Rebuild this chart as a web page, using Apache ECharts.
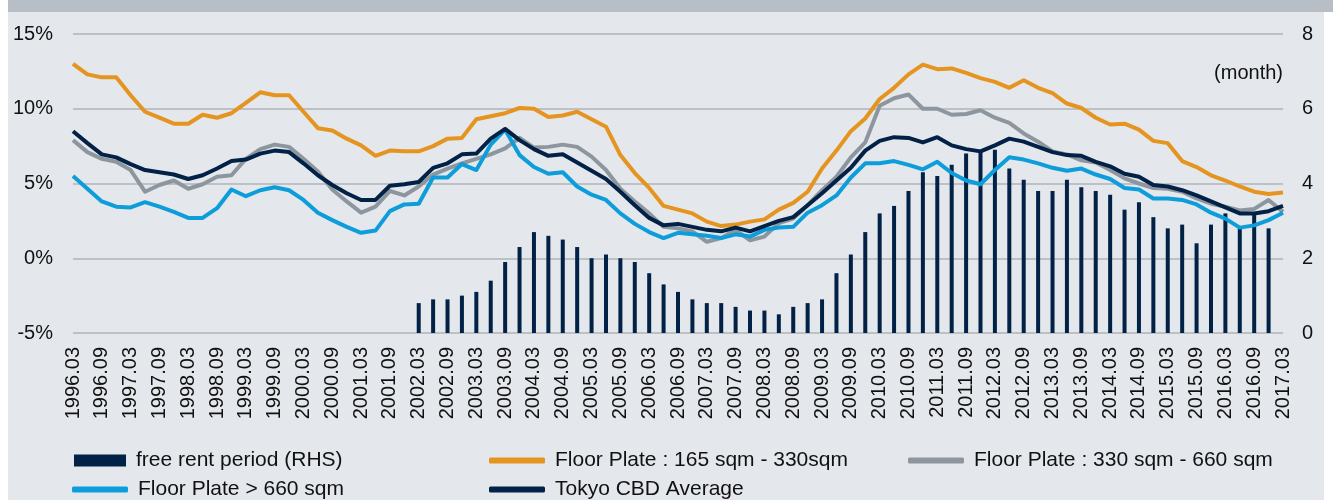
<!DOCTYPE html>
<html>
<head>
<meta charset="utf-8">
<script src="https://cdn.jsdelivr.net/npm/echarts@6/dist/echarts.min.js"></script>
<style>
  html, body { margin: 0; padding: 0; background: #fff; }
  #wrap { position: relative; width: 1333px; height: 500px; overflow: hidden; }
  #band { position: absolute; left: 8px; top: 0; width: 1325px; height: 12px; background: #b7bec6; }
  #bg { position: absolute; left: 8px; top: 12px; width: 1316px; height: 488px; background: #e4e7eb; }
  #chart { position: absolute; left: 0; top: 0; width: 1333px; height: 500px; }
</style>
</head>
<body>
<div id="wrap">
  <div id="band"></div>
  <div id="bg"></div>
  <div id="chart"></div>
</div>
<script>
// quarterly periods, label shown every other one
const categories = [
  '1996.03', '1996.06', '1996.09', '1996.12', '1997.03', '1997.06', '1997.09', '1997.12',
  '1998.03', '1998.06', '1998.09', '1998.12', '1999.03', '1999.06', '1999.09', '1999.12',
  '2000.03', '2000.06', '2000.09', '2000.12', '2001.03', '2001.06', '2001.09', '2001.12',
  '2002.03', '2002.06', '2002.09', '2002.12', '2003.03', '2003.06', '2003.09', '2003.12',
  '2004.03', '2004.06', '2004.09', '2004.12', '2005.03', '2005.06', '2005.09', '2005.12',
  '2006.03', '2006.06', '2006.09', '2006.12', '2007.03', '2007.06', '2007.09', '2007.12',
  '2008.03', '2008.06', '2008.09', '2008.12', '2009.03', '2009.06', '2009.09', '2009.12',
  '2010.03', '2010.06', '2010.09', '2010.12', '2011.03', '2011.06', '2011.09', '2011.12',
  '2012.03', '2012.06', '2012.09', '2012.12', '2013.03', '2013.06', '2013.09', '2013.12',
  '2014.03', '2014.06', '2014.09', '2014.12', '2015.03', '2015.06', '2015.09', '2015.12',
  '2016.03', '2016.06', '2016.09', '2016.12', '2017.03'
]

// free rent period, months (RHS)
const freeRent = [
  null, null, null, null, null, null, null, null, null, null, null, null,
  null, null, null, null, null, null, null, null, null, null, null, null,
  0.8, 0.9, 0.9, 1.0, 1.1, 1.4, 1.9, 2.3, 2.7, 2.6, 2.5, 2.3,
  2.0, 2.1, 2.0, 1.9, 1.6, 1.3, 1.1, 0.9, 0.8, 0.8, 0.7, 0.6,
  0.6, 0.5, 0.7, 0.8, 0.9, 1.6, 2.1, 2.7, 3.2, 3.4, 3.8, 4.3,
  4.2, 4.5, 4.8, 4.85, 4.9, 4.4, 4.1, 3.8, 3.8, 4.1, 3.9, 3.8,
  3.7, 3.3, 3.5, 3.1, 2.8, 2.9, 2.4, 2.9, 3.2, 2.8, 3.2, 2.8, null
]

// vacancy rates, %
const plateSmall = [
  13.0, 12.3, 12.1, 12.1, 10.9, 9.8, 9.4, 9.0, 9.0, 9.6, 9.4, 9.7,
  10.4, 11.1, 10.9, 10.9, 9.8, 8.7, 8.55, 8.0, 7.55, 6.85, 7.2, 7.15,
  7.15, 7.5, 8.0, 8.05, 9.3, 9.5, 9.7, 10.05, 10.0, 9.45, 9.55, 9.8,
  9.3, 8.8, 6.9, 5.7, 4.7, 3.5, 3.25, 3.0, 2.45, 2.15, 2.25, 2.45,
  2.6, 3.25, 3.7, 4.45, 6.0, 7.2, 8.5, 9.35, 10.65, 11.4, 12.3, 12.95,
  12.65, 12.7, 12.4, 12.05, 11.8, 11.4, 11.9, 11.4, 11.05, 10.35, 10.05, 9.4,
  8.95, 9.0, 8.6, 7.85, 7.7, 6.5, 6.1, 5.55, 5.2, 4.8, 4.45, 4.3, 4.4
]

const plateMid = [
  7.9, 7.1, 6.65, 6.45, 5.9, 4.45, 4.9, 5.2, 4.65, 4.95, 5.45, 5.55,
  6.65, 7.3, 7.6, 7.45, 6.65, 5.8, 4.6, 3.8, 3.05, 3.45, 4.5, 4.2,
  4.8, 5.6, 6.0, 6.35, 6.65, 6.95, 7.35, 8.05, 7.4, 7.45, 7.6, 7.45,
  6.8, 5.9, 4.65, 3.8, 3.0, 2.1, 2.0, 1.8, 1.1, 1.35, 1.9, 1.2,
  1.45, 2.35, 2.65, 3.55, 4.55, 5.45, 6.75, 7.75, 10.2, 10.7, 10.95, 10.0,
  10.0, 9.6, 9.65, 9.9, 9.4, 9.05, 8.35, 7.8, 7.15, 6.95, 6.55, 6.4,
  5.9, 5.35, 5.0, 4.7, 4.65, 4.45, 4.0, 3.65, 3.45, 3.2, 3.3, 3.9, 3.1
]

const plateLarge = [
  5.5, 4.65, 3.8, 3.45, 3.4, 3.75, 3.45, 3.1, 2.7, 2.7, 3.35, 4.6,
  4.15, 4.55, 4.75, 4.55, 3.9, 3.05, 2.55, 2.1, 1.7, 1.85, 3.15, 3.6,
  3.65, 5.4, 5.4, 6.3, 5.9, 7.6, 8.6, 6.9, 6.1, 5.65, 5.75, 4.8,
  4.25, 3.9, 3.0, 2.3, 1.75, 1.35, 1.7, 1.6, 1.5, 1.35, 1.6, 1.45,
  1.9, 2.05, 2.1, 3.05, 3.55, 4.2, 5.4, 6.35, 6.35, 6.5, 6.25, 5.95,
  6.45, 5.7, 5.2, 4.95, 5.9, 6.75, 6.6, 6.35, 6.05, 5.85, 6.0, 5.6,
  5.3, 4.7, 4.6, 4.0, 4.0, 3.9, 3.6, 3.05, 2.65, 2.05, 2.2, 2.55, 3.05
]

const cbdAverage = [
  8.5, 7.7, 6.95, 6.75, 6.3, 5.9, 5.75, 5.6, 5.3, 5.55, 6.0, 6.5,
  6.6, 7.0, 7.2, 7.1, 6.35, 5.55, 4.9, 4.35, 3.9, 3.9, 4.85, 4.95,
  5.1, 6.05, 6.35, 6.95, 7.0, 8.0, 8.65, 7.9, 7.3, 6.85, 6.95, 6.4,
  5.85, 5.3, 4.45, 3.55, 2.7, 2.2, 2.3, 2.1, 1.9, 1.8, 2.05, 1.8,
  2.15, 2.5, 2.75, 3.55, 4.35, 5.2, 6.05, 7.2, 7.85, 8.1, 8.05, 7.75,
  8.1, 7.55, 7.3, 7.15, 7.55, 8.0, 7.8, 7.45, 7.1, 6.9, 6.85, 6.45,
  6.15, 5.65, 5.45, 4.9, 4.8, 4.55, 4.2, 3.8, 3.4, 3.0, 3.0, 3.15, 3.5
]

const FONT = "'Liberation Sans', Arial, sans-serif"
const NAVY = '#022147'
const ORANGE = '#e5951f'
const GREY = '#8d969f'
const BLUE = '#0d9ddb'

const chart = echarts.init(document.getElementById('chart'))

const legendBase = {
  padding: 0,
  selectedMode: false,
  itemHeight: 6,
  itemWidth: 56,
  textStyle: { fontFamily: FONT, fontSize: 21, color: '#111', padding: [0, 0, 0, 5] }
}

const lineSeries = (name, data, color) => ({
  name,
  type: 'line',
  data,
  yAxisIndex: 0,
  showSymbol: false,
  symbol: 'none',
  color,
  lineStyle: { width: 4, color, join: 'round' }
})

chart.setOption({
  animation: false,
  textStyle: { fontFamily: FONT },
  grid: { left: 73, right: 50, top: 34, bottom: 167 },
  legend: [
    { ...legendBase, data: [{ name: 'free rent period (RHS)', icon: 'rect' }], left: 74, top: 450, itemWidth: 52, itemHeight: 12 },
    { ...legendBase, data: [{ name: 'Floor Plate : 165 sqm - 330sqm', icon: 'roundRect' }], left: 489, top: 450 },
    { ...legendBase, data: [{ name: 'Floor Plate : 330 sqm - 660 sqm', icon: 'roundRect' }], left: 908, top: 450 },
    { ...legendBase, data: [{ name: 'Floor Plate > 660 sqm', icon: 'roundRect' }], left: 72, top: 479 },
    { ...legendBase, data: [{ name: 'Tokyo CBD Average', icon: 'roundRect' }], left: 489, top: 479 }
  ],
  graphic: [
    { type: 'text', right: 50, top: 63, style: { text: '(month)', font: '20px ' + FONT, fill: '#111' } }
  ],
  xAxis: {
    type: 'category',
    data: categories,
    boundaryGap: false,
    axisLine: { show: false },
    axisTick: { show: false },
    axisLabel: { interval: 1, rotate: 90, margin: 14, fontSize: 20, color: '#111', fontFamily: FONT }
  },
  yAxis: [
    {
      type: 'value',
      min: -5,
      max: 15,
      interval: 5,
      axisLine: { show: false },
      axisTick: { show: false },
      axisLabel: { formatter: '{value}%', fontSize: 20, color: '#111', margin: 20, fontFamily: FONT },
      splitLine: { lineStyle: { color: '#bcc1c6', width: 2 } }
    },
    {
      type: 'value',
      position: 'right',
      min: 0,
      max: 8,
      interval: 2,
      axisLine: { show: false },
      axisTick: { show: false },
      axisLabel: { fontSize: 20, color: '#111', margin: 19, fontFamily: FONT },
      splitLine: { show: false }
    }
  ],
  series: [
    {
      name: 'free rent period (RHS)',
      type: 'bar',
      data: freeRent,
      yAxisIndex: 1,
      barWidth: 4,
      color: NAVY,
      itemStyle: { color: NAVY }
    },
    lineSeries('Floor Plate : 330 sqm - 660 sqm', plateMid, GREY),
    lineSeries('Floor Plate : 165 sqm - 330sqm', plateSmall, ORANGE),
    lineSeries('Floor Plate > 660 sqm', plateLarge, BLUE),
    lineSeries('Tokyo CBD Average', cbdAverage, NAVY)
  ]
})
</script>
</body>
</html>
